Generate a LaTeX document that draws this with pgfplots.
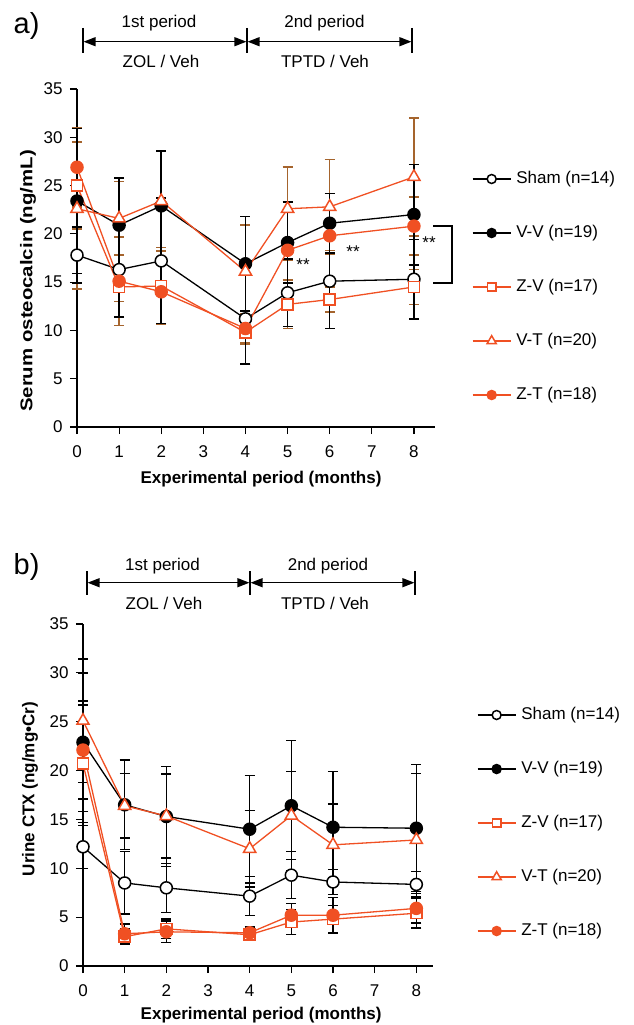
\documentclass[border=0pt]{standalone}
\usepackage{fontspec}
\setmainfont{Liberation Sans}
\usepackage{graphicx}
\usepackage{pgfplots}
\pgfplotsset{compat=1.18}
\usepackage{pgfplotstable}
\usetikzlibrary{arrows.meta}
\definecolor{zorange}{RGB}{240,80,35}
\definecolor{ebrown}{RGB}{165,100,45}

\pgfplotstableread{
x y e
0 17.8 2.9
1 16.3 4.9
2 17.2 6.5
4 11.2 4.7
5 13.9 3.5
6 15.1 4.9
8 15.3 4.1
}\tSham
\pgfplotstableread{
x y e
0 23.4 7.5
1 20.9 4.9
2 22.9 5.7
4 16.9 4.9
5 19.1 4.2
6 21.1 3.1
8 22.0 5.2
}\tVV
\pgfplotstableread{
x y e
0 25.0 4.5
1 14.5 1.5
2 14.6 4.0
4 9.8 1.2
5 12.7 2.5
6 13.2 1.3
8 14.5 1.8
}\tZV
\pgfplotstableread{
x y e
0 22.6 8.3
1 21.6 3.8
2 23.4 5.2
4 16.1 4.8
5 22.6 4.3
6 22.8 4.9
8 25.9 6.1
}\tVT
\pgfplotstableread{
x y e
0 26.9 4.1
1 15.1 4.6
2 14.0 3.3
4 10.2 1.5
5 18.3 1.0
6 19.8 1.5
8 20.8 3.0
}\tZT

\pgfplotstableread{
x y e
0 12.2 2.2
1 8.5 3.2
2 8.0 2.5
4 7.15 2.0
5 9.3 2.4
6 8.6 1.3
8 8.35 1.3
}\bSham
\pgfplotstableread{
x y e
0 22.9 7.1
1 16.5 4.6
2 15.3 5.1
4 14.0 5.5
5 16.4 6.7
6 14.2 5.7
8 14.1 6.5
}\bVV
\pgfplotstableread{
x y e
0 20.7 6.0
1 3.0 0.8
2 3.8 1.0
4 3.2 0.6
5 4.5 1.3
6 4.8 1.4
8 5.4 1.5
}\bZV
\pgfplotstableread{
x y e
0 25.1 6.3
1 16.4 3.3
2 15.35 4.3
4 12.0 3.9
5 15.4 4.5
6 12.4 4.2
8 12.9 6.8
}\bVT
\pgfplotstableread{
x y e
0 22.1 5.0
1 3.3 1.0
2 3.5 1.1
4 3.4 0.6
5 5.2 1.2
6 5.2 1.8
8 5.9 1.5
}\bZT

\newcommand{\fs}{\fontsize{17}{20}\selectfont}

\pgfplotsset{
  panel/.style={scale only axis, axis lines=left, axis line style={-, line width=1.2pt},
    tick align=outside, major tick length=7pt, tick style={line width=1.2pt, black},
    xtick={0,...,8}, ytick={0,5,...,35}, xmin=0, ymin=0, ymax=35, clip=false,
    ticklabel style={font=\fs}, /pgf/number format/assume math mode=true,
    xticklabel style={yshift=-8pt}, yticklabel style={xshift=-4pt},
    legend cell align=left,
    legend image code/.code={\draw[##1,mark repeat=2,mark phase=2] plot coordinates {(0pt,0pt)(19pt,0pt)(38pt,0pt)};},
    legend style={anchor=north west, draw=none, fill=none, inner sep=0pt, outer sep=0pt,
      row sep=38pt, column sep=5pt, font=\fs, nodes={inner sep=0pt, text height=12pt, text depth=4pt}}},
  sSham/.style={black, line width=1.3pt, mark=*, mark size=#1, mark options={fill=white, line width=1.5pt}},
  sVV/.style={black, line width=1.3pt, mark=*, mark size=#1, mark options={fill=black, line width=1.5pt}},
  sZV/.style={zorange, line width=1.3pt, mark=square*, mark size=#1, mark options={fill=white, line width=1.5pt}},
  sVT/.style={zorange, line width=1.3pt, mark=triangle*, mark size=#1, mark options={fill=white, line width=1.5pt}},
  sZT/.style={zorange, line width=1.3pt, mark=*, mark size=#1, mark options={fill=zorange, line width=1.5pt}},
}
\newcommand{\ebar}[2]{\addplot[forget plot, draw=none, mark=none,
   error bars/.cd, y dir=both, y explicit,
   error bar style={draw=#1, line width=1.5pt, solid},
   error mark=-,
   error mark options={draw=#1, line width=1.5pt, mark size=5pt, rotate=90}]
   table[x=x,y=y,y error=e] {#2};}

\begin{document}
\begin{tikzpicture}[x=1pt,y=1pt]
\path[use as bounding box] (0,0) rectangle (633,-1025);

% ---------- panel a ----------
\begin{axis}[panel, at={(77pt,-427pt)}, anchor=south west, width=358pt, height=338pt, xmax=8.5,
  xlabel={Experimental period (months)},
  ylabel={\scalebox{1.2}[1]{Serum osteocalcin (ng/mL)}},
  every axis x label/.style={at={(axis description cs:0.514,-0.1657)}, anchor=base, font=\bfseries\fs},
  every axis y label/.style={at={(axis description cs:-0.137,0.432)}, rotate=90, anchor=center, font=\bfseries\fs},
  legend style={at={(1.1034,0.7574)}}]
\ebar{ebrown}{\tZV}
\ebar{ebrown}{\tVT}
\ebar{ebrown}{\tZT}
\ebar{black}{\tSham}
\ebar{black}{\tVV}
\addplot[sSham=6pt, forget plot] table[x=x,y=y] {\tSham};
\addplot[sVV=6pt, forget plot] table[x=x,y=y] {\tVV};
\addplot[sZV=5.5pt, forget plot] table[x=x,y=y] {\tZV};
\addplot[sVT=7pt, forget plot] table[x=x,y=y] {\tVT};
\addplot[sZT=6pt, forget plot] table[x=x,y=y] {\tZT};
\addlegendimage{sSham=4.5pt}\addlegendentry{Sham (n=14)}
\addlegendimage{sVV=4.5pt}\addlegendentry{V-V (n=19)}
\addlegendimage{sZV=4.2pt}\addlegendentry{Z-V (n=17)}
\addlegendimage{sVT=5.3pt}\addlegendentry{V-T (n=20)}
\addlegendimage{sZT=4.5pt}\addlegendentry{Z-T (n=18)}
\end{axis}

% ---------- panel b ----------
\begin{axis}[panel, at={(83pt,-966pt)}, anchor=south west, width=350pt, height=342pt, xmax=8.4,
  xlabel={Experimental period (months)},
  ylabel={Urine CTX (ng/mg•Cr)},
  every axis x label/.style={at={(axis description cs:0.509,-0.155)}, anchor=base, font=\bfseries\fs},
  every axis y label/.style={at={(axis description cs:-0.1514,0.5175)}, rotate=90, anchor=center, font=\bfseries\fs},
  legend style={at={(1.1257,0.7573)}}]
\ebar{black}{\bSham}
\ebar{black}{\bVV}
\ebar{black}{\bZV}
\ebar{black}{\bVT}
\ebar{black}{\bZT}
\addplot[sSham=6pt, forget plot] table[x=x,y=y] {\bSham};
\addplot[sVV=6pt, forget plot] table[x=x,y=y] {\bVV};
\addplot[sZV=5.5pt, forget plot] table[x=x,y=y] {\bZV};
\addplot[sVT=7pt, forget plot] table[x=x,y=y] {\bVT};
\addplot[sZT=6pt, forget plot] table[x=x,y=y] {\bZT};
\addlegendimage{sSham=4.5pt}\addlegendentry{Sham (n=14)}
\addlegendimage{sVV=4.5pt}\addlegendentry{V-V (n=19)}
\addlegendimage{sZV=4.2pt}\addlegendentry{Z-V (n=17)}
\addlegendimage{sVT=5.3pt}\addlegendentry{V-T (n=20)}
\addlegendimage{sZT=4.5pt}\addlegendentry{Z-T (n=18)}
\end{axis}

% ---------- annotations ----------
\tikzset{tip/.style={{Triangle[length=12pt,width=9pt]}-{Triangle[length=12pt,width=9pt]}}}
\node[anchor=base west, inner sep=0pt, font=\fontsize{29}{30}\selectfont] at (13.5,-34) {a)};
\foreach \xx in {83,247,412} \draw[line width=1.3pt] (\xx,-28) -- (\xx,-53);
\draw[line width=1.3pt, tip] (83.6,-41.7) -- (246.4,-41.7);
\draw[line width=1.3pt, tip] (247.6,-41.7) -- (411.4,-41.7);
\node[anchor=base, inner sep=0pt, font=\fs] at (159,-28) {1st period};
\node[anchor=base, inner sep=0pt, font=\fs] at (324.5,-28) {2nd period};
\node[anchor=base, inner sep=0pt, font=\fs] at (161,-67) {ZOL / Veh};
\node[anchor=base, inner sep=0pt, font=\fs] at (325,-67) {TPTD / Veh};
\node[anchor=base, inner sep=0pt, font=\fs] at (303,-270) {**};
\node[anchor=base, inner sep=0pt, font=\fs] at (353,-257) {**};
\node[anchor=base, inner sep=0pt, font=\fs] at (429,-248) {**};
\draw[line width=1.3pt] (433,-226) -- (452,-226) -- (452,-283) -- (433,-283);

\node[anchor=base west, inner sep=0pt, font=\fontsize{29}{30}\selectfont] at (13.5,-574) {b)};
\foreach \xx in {87,250,415} \draw[line width=1.3pt] (\xx,-571) -- (\xx,-595);
\draw[line width=1.3pt, tip] (87.6,-582.7) -- (249.4,-582.7);
\draw[line width=1.3pt, tip] (250.6,-582.7) -- (414.4,-582.7);
\node[anchor=base, inner sep=0pt, font=\fs] at (162.5,-570) {1st period};
\node[anchor=base, inner sep=0pt, font=\fs] at (328,-570) {2nd period};
\node[anchor=base, inner sep=0pt, font=\fs] at (164,-609) {ZOL / Veh};
\node[anchor=base, inner sep=0pt, font=\fs] at (325,-609) {TPTD / Veh};
\end{tikzpicture}
\end{document}
